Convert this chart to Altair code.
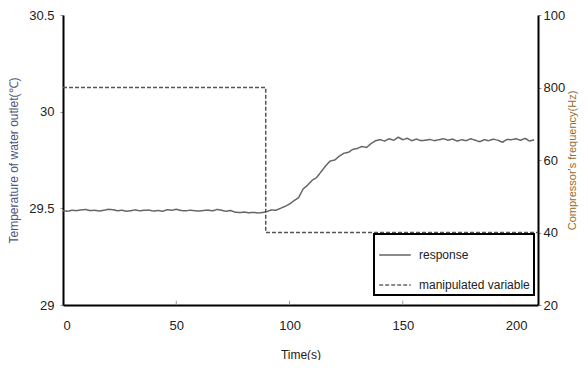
import altair as alt
import pandas as pd

# ---- data ----
time_s = list(range(0, 210, 2))
response_c = [
    29.487, 29.485, 29.490, 29.488, 29.492, 29.494, 29.488, 29.490, 29.486, 29.490,
    29.495, 29.493, 29.487, 29.490, 29.485, 29.488, 29.492, 29.487, 29.490, 29.491,
    29.486, 29.489, 29.485, 29.493, 29.490, 29.495, 29.489, 29.487, 29.490, 29.488,
    29.486, 29.489, 29.491, 29.487, 29.494, 29.490, 29.485, 29.489, 29.480, 29.478,
    29.481, 29.477, 29.479, 29.476, 29.478, 29.483, 29.492, 29.490, 29.500, 29.510,
    29.522, 29.540, 29.555, 29.600, 29.620, 29.645, 29.660, 29.690, 29.720, 29.745,
    29.750, 29.770, 29.785, 29.790, 29.805, 29.810, 29.820, 29.815, 29.835, 29.850,
    29.855, 29.848, 29.860, 29.852, 29.868, 29.855, 29.862, 29.850, 29.858, 29.850,
    29.852, 29.856, 29.850, 29.855, 29.860, 29.852, 29.858, 29.848, 29.855, 29.850,
    29.860, 29.852, 29.845, 29.855, 29.850, 29.858, 29.852, 29.842, 29.856, 29.855,
    29.860, 29.852, 29.862, 29.848, 29.855,
]
manip_t = [0, 89.5, 89.5, 209.7]
manip_hz = [80, 80, 40, 40]
series_names = ["response", "manipulated variable"]
x_ticks = [0, 50, 100, 150, 200]
left_ticks = [29, 29.5, 30, 30.5]
right_ticks = [20, 40, 60, 80, 100]

FONT = "Liberation Sans"

df_resp = pd.DataFrame({"t": time_s, "v": response_c, "series": series_names[0]})
df_man = pd.DataFrame({"t": manip_t, "hz": manip_hz, "o": list(range(len(manip_t))),
                       "series": series_names[1]})
df_tick = pd.DataFrame({"t": x_ticks[1:-1], "v": [29] * 3, "v2": [29.022] * 3})

x_enc = alt.X("t:Q", scale=alt.Scale(domain=[0, 209.7], nice=False, zero=False),
              axis=alt.Axis(values=x_ticks, title="Time(s)", ticks=False,
                            labelPadding=14, titlePadding=17))

dash_scale = alt.Scale(domain=series_names, range=[[1, 0], [4, 2]])
dash_legend = alt.Legend(title=None, orient="none", legendX=311, legendY=219,
                         strokeColor="black", fillColor="white",
                         padding=4, symbolType="stroke", symbolSize=1000,
                         symbolStrokeWidth=1.5, symbolStrokeColor="#666666",
                         labelFontSize=12, labelOffset=7, rowPadding=7,
                         labelFont=FONT, labelColor="#222222")

left_y = alt.Y("v:Q", scale=alt.Scale(domain=[29, 30.5], nice=False, zero=False),
               axis=alt.Axis(values=left_ticks, format="~g",
                             title="Temperature of water outlet(\u2103)",
                             titleColor="#4a5680", tickSize=3, tickColor="#999999",
                             labelPadding=6, titlePadding=8))

resp_line = alt.Chart(df_resp).mark_line(color="#666666", strokeWidth=1.5).encode(
    x=x_enc, y=left_y,
    strokeDash=alt.StrokeDash("series:N", scale=dash_scale, legend=dash_legend),
)
tick_rules = alt.Chart(df_tick).mark_rule(color="#999999", strokeWidth=1).encode(
    x="t:Q", y="v:Q", y2="v2:Q")
left_layer = alt.layer(resp_line, tick_rules)

right_y = alt.Y("hz:Q", scale=alt.Scale(domain=[20, 100], nice=False, zero=False),
                axis=alt.Axis(orient="right", values=right_ticks,
                              title="Compressor's frequency(Hz)", titleColor="#9a6a2a",
                              titleAngle=270, titleBaseline="top", titleFontSize=11,
                              labelExpr="datum.value == 80 ? '800' : datum.label",
                              tickSize=3, tickColor="#999999", labelPadding=2,
                              titlePadding=2))
manip_line = alt.Chart(df_man).mark_line(color="#555555", strokeWidth=1.5).encode(
    x=x_enc, y=right_y, order="o:Q",
    strokeDash=alt.StrokeDash("series:N", scale=dash_scale, legend=dash_legend),
)

chart = alt.layer(left_layer, manip_line).resolve_scale(y="independent").properties(
    width=475, height=290,
    autosize=alt.AutoSizeParams(type="none"),
    padding={"left": 55, "top": 7, "right": 42, "bottom": 55},
).configure_view(stroke=None).configure_axis(
    grid=False, domainColor="black", domainWidth=2,
    labelFont=FONT, titleFont=FONT, labelFontSize=13, titleFontSize=12,
    titleFontWeight="normal", labelColor="#222222",
).configure_axisX(titleColor="#222222").configure_legend(strokeWidth=2)

chart.save("out.html", embed_options={"renderer": "svg", "actions": False})
